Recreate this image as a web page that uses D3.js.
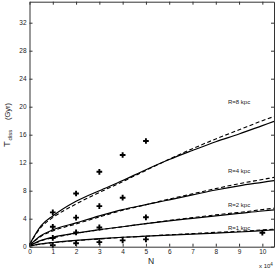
<!DOCTYPE html>
<html><head><meta charset="utf-8">
<script src="https://cdn.jsdelivr.net/npm/d3@7"></script>
<style>
html,body{margin:0;padding:0;background:#fff;}
svg{display:block;font-family:"Liberation Sans",Arial,sans-serif;}
</style></head><body>
<svg id="c" width="277" height="269"></svg>
<script>
// ---- data (N in units of 10^4, T in Gyr) ----
const curveN = [0, 0.5, 1, 2, 3, 4, 5, 6, 7, 8, 9, 10, 10.5];
const solidR8 = [0.3, 3.0, 4.4, 6.5, 8.0, 9.45, 11.0, 12.45, 13.75, 15.0, 16.1, 17.3, 17.9];
const solidR4 = [0.2, 1.6, 2.4, 3.4, 4.4, 5.3, 6.0, 6.7, 7.4, 8.1, 8.7, 9.2, 9.45];
const solidR2 = [0.15, 0.9, 1.35, 1.95, 2.45, 2.85, 3.3, 3.7, 4.05, 4.4, 4.75, 5.1, 5.25];
const solidR1 = [0.1, 0.4, 0.6, 0.9, 1.15, 1.35, 1.5, 1.65, 1.8, 1.95, 2.1, 2.3, 2.4];
const dashR8 = [0.3, 2.8, 4.15, 6.1, 7.75, 9.3, 10.9, 12.5, 14.0, 15.4, 16.7, 18.0, 18.6];
const dashR4 = [0.2, 1.5, 2.25, 3.25, 4.25, 5.2, 6.0, 6.8, 7.55, 8.3, 9.0, 9.6, 9.9];
const dashR2 = [0.15, 0.85, 1.28, 1.9, 2.4, 2.85, 3.3, 3.75, 4.15, 4.55, 4.9, 5.3, 5.5];
const dashR1 = [0.1, 0.38, 0.57, 0.87, 1.1, 1.33, 1.5, 1.7, 1.87, 2.05, 2.2, 2.4, 2.5];
const obsN = [1, 1, 1, 1, 2, 2, 2, 2, 3, 3, 3, 3, 4, 4, 4, 5, 5, 5, 10];
const obsT = [4.9, 2.85, 1.25, 0.2, 7.6, 4.15, 2.05, 0.5, 10.7, 5.8, 2.75, 0.65, 13.1, 7.0, 0.9, 15.1, 4.2, 1.05, 2.0];
const curveLabels = ["R=8 kpc", "R=4 kpc", "R=2 kpc", "R=1 kpc"];
const labelT = [20.7, 10.9, 6.0, 2.7];
const xTicks = [0,1,2,3,4,5,6,7,8,9,10];
const yTicks = [0,4,8,12,16,20,24,28,32];

const svg = d3.select("#c");
const x = d3.scaleLinear().domain([0, 10.5]).range([29.5, 274]);
const y = d3.scaleLinear().domain([0, 35]).range([246.7, 1.7]);

svg.append("rect").attr("x", x(0)).attr("y", y(35)).attr("width", x(10.5)-x(0)).attr("height", y(0)-y(35)).attr("fill","#fff");

const line = d3.line().x(d=>x(d[0])).y(d=>y(d[1])).curve(d3.curveMonotoneX);
const solids = [solidR8, solidR4, solidR2, solidR1];
const dashes = [dashR8, dashR4, dashR2, dashR1];
dashes.forEach(s=>{
  svg.append("path").datum(curveN.map((n,i)=>[n,s[i]])).attr("d", line)
    .attr("fill","none").attr("stroke","#000").attr("stroke-width",1.1).attr("stroke-dasharray","4,2.5");
});
solids.forEach(s=>{
  svg.append("path").datum(curveN.map((n,i)=>[n,s[i]])).attr("d", line)
    .attr("fill","none").attr("stroke","#000").attr("stroke-width",1.2);
});

const sym = d3.symbol().type(d3.symbolCross).size(18);
svg.append("g").selectAll("path").data(obsN.map((n,i)=>[n,obsT[i]])).join("path")
  .attr("d", sym).attr("transform", d=>`translate(${x(d[0])},${y(d[1])})`).attr("fill","#000");

svg.append("g").selectAll("text").data(curveLabels).join("text")
  .attr("x", x(9.0)).attr("y", (d,i)=>y(labelT[i])).attr("dy","0.35em")
  .attr("text-anchor","middle").attr("font-size","6px").attr("fill","#222").text(d=>d);

function style(g){
  g.selectAll(".domain").attr("stroke","#333").attr("stroke-width",1);
  g.selectAll(".tick line").attr("stroke","#333");
  g.selectAll("text").attr("font-size","6.5px").attr("fill","#222").attr("font-family","Liberation Sans, Arial, sans-serif");
}
svg.append("g").attr("transform",`translate(0,${y(0)})`)
  .call(d3.axisBottom(x).tickValues(xTicks).tickFormat(d3.format("d")).tickSize(-3).tickSizeOuter(0).tickPadding(3)).call(style);
svg.append("g").attr("transform",`translate(0,${y(35)})`)
  .call(d3.axisTop(x).tickValues(xTicks).tickFormat("").tickSize(-3).tickSizeOuter(0)).call(style);
svg.append("g").attr("transform",`translate(${x(0)},0)`)
  .call(d3.axisLeft(y).tickValues(yTicks).tickFormat(d3.format("d")).tickSize(-3).tickSizeOuter(0).tickPadding(3)).call(style);
svg.append("g").attr("transform",`translate(${x(10.5)},0)`)
  .call(d3.axisRight(y).tickValues(yTicks).tickFormat("").tickSize(-3).tickSizeOuter(0)).call(style);

svg.append("text").attr("x",151).attr("y",264).attr("text-anchor","middle").attr("font-size","8.5px").attr("fill","#222").text("N");
const mult = svg.append("text").attr("x",259).attr("y",268).attr("font-size","6px").attr("fill","#222");
mult.append("tspan").text("x 10");
mult.append("tspan").attr("dy","-2.5").attr("font-size","4.5px").text("4");

svg.append("text").attr("transform","translate(10,147) rotate(-90)").attr("font-size","9.5px").attr("fill","#222").text("T");
svg.append("text").attr("transform","translate(12,140.5) rotate(-90)").attr("font-size","6px").attr("fill","#222").text("diss");
svg.append("text").attr("transform","translate(9.5,111.5) rotate(-90)").attr("text-anchor","middle").attr("font-size","7.5px").attr("fill","#222").text("(Gyr)");
</script></body></html>
